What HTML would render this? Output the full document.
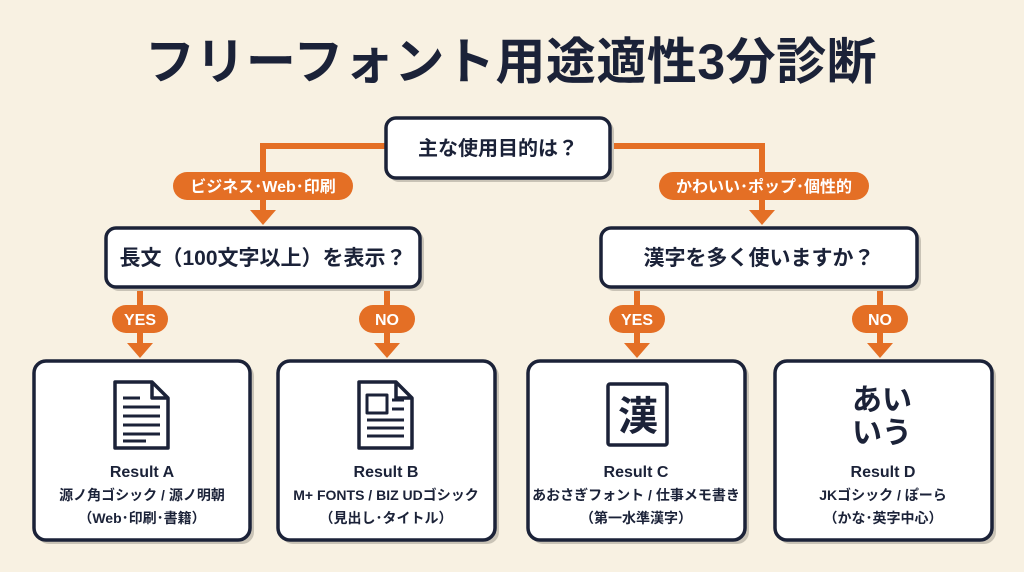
<!DOCTYPE html>
<html><head><meta charset="utf-8"><style>
html,body{margin:0;padding:0;background:#f8f1e2;}
svg{display:block}
text{font-family:"Liberation Sans","Noto Sans CJK JP",sans-serif;fill:#1b2238;font-weight:bold;text-anchor:middle}
</style></head><body>
<svg width="1024" height="572" viewBox="0 0 1024 572">
<rect width="1024" height="572" fill="#f8f1e2"/>
<text x="511" y="79" font-size="50" font-weight="900" letter-spacing="0.5">フリーフォント用途適性3分診断</text>
<g stroke="#e46f25" stroke-width="6" fill="none">
<path d="M388 146 H263 V212"/>
<path d="M608 146 H762 V212"/>
<path d="M140 288 V345"/><path d="M387 288 V345"/>
<path d="M637 288 V345"/><path d="M880 288 V345"/>
</g>
<g fill="#e46f25">
<path d="M250 210 H276 L263 225 Z"/><path d="M749 210 H775 L762 225 Z"/>
<path d="M127 343 H153 L140 358 Z"/><path d="M374 343 H400 L387 358 Z"/>
<path d="M624 343 H650 L637 358 Z"/><path d="M867 343 H893 L880 358 Z"/>
<rect x="173" y="172" width="180" height="28" rx="14"/>
<rect x="659" y="172" width="210" height="28" rx="14"/>
<rect x="112" y="305" width="56" height="28" rx="14"/>
<rect x="359" y="305" width="56" height="28" rx="14"/>
<rect x="609" y="305" width="56" height="28" rx="14"/>
<rect x="852" y="305" width="56" height="28" rx="14"/>
</g>
<g font-size="16">
<text x="263" y="192" style="fill:#fff">ビジネス･Web･印刷</text>
<text x="764" y="192" style="fill:#fff">かわいい･ポップ･個性的</text>
<text x="140" y="325" style="fill:#fff">YES</text>
<text x="387" y="325" style="fill:#fff">NO</text>
<text x="637" y="325" style="fill:#fff">YES</text>
<text x="880" y="325" style="fill:#fff">NO</text>
</g>
<g fill="#c9c3b6">
<rect x="389" y="121" width="225" height="61" rx="10"/>
<rect x="109" y="231" width="315" height="60" rx="10"/>
<rect x="604" y="231" width="317" height="60" rx="10"/>
<rect x="37" y="364" width="217" height="180" rx="12"/>
<rect x="281" y="364" width="218" height="180" rx="12"/>
<rect x="531" y="364" width="218" height="180" rx="12"/>
<rect x="778" y="364" width="218" height="180" rx="12"/>
</g>
<g fill="#fff" stroke="#1b2238" stroke-width="3.5">
<rect x="386" y="118" width="224" height="60" rx="10"/>
<rect x="106" y="228" width="314" height="59" rx="10"/>
<rect x="601" y="228" width="316" height="59" rx="10"/>
<rect x="34" y="361" width="216" height="179" rx="12"/>
<rect x="278" y="361" width="217" height="179" rx="12"/>
<rect x="528" y="361" width="217" height="179" rx="12"/>
<rect x="775" y="361" width="217" height="179" rx="12"/>
</g>
<text x="498" y="155" font-size="20">主な使用目的は？</text>
<text x="263" y="265" font-size="21">長文（100文字以上）を表示？</text>
<text x="759" y="265" font-size="21">漢字を多く使いますか？</text>
<g fill="none" stroke="#1b2238" stroke-width="3.5" stroke-linejoin="round">
<path d="M115 382 H152 L168 398 V448 H115 Z M152 382 V398 H168"/>
<path d="M359 382 H396 L412 398 V448 H359 Z M396 382 V398 H412"/>
<rect x="608" y="384" width="59" height="61" rx="2"/>
<rect x="367" y="395" width="20" height="18" stroke-width="3"/>
</g>
<g stroke="#1b2238" stroke-width="3">
<path d="M123 398 H140 M123 407 H160 M123 416 H160 M123 425 H160 M123 434 H160 M123 441 H146"/>
<path d="M392 400 H404 M392 409 H404 M367 420 H404 M367 428 H404 M367 436 H404"/>
</g>
<text x="638" y="430" font-size="40" font-weight="normal">漢</text>
<text x="882" y="410" font-size="30">あい</text>
<text x="882" y="443" font-size="30">いう</text>
<g font-size="16">
<text x="142" y="477">Result A</text>
<text x="142" y="500" font-size="14">源ノ角ゴシック / 源ノ明朝</text>
<text x="142" y="523" font-size="14">（Web･印刷･書籍）</text>
<text x="386" y="477">Result B</text>
<text x="386" y="500" font-size="14">M+ FONTS / BIZ UDゴシック</text>
<text x="386" y="523" font-size="14">（見出し･タイトル）</text>
<text x="636" y="477">Result C</text>
<text x="636" y="500" font-size="14">あおさぎフォント / 仕事メモ書き</text>
<text x="636" y="523" font-size="14">（第一水準漢字）</text>
<text x="883" y="477">Result D</text>
<text x="883" y="500" font-size="14">JKゴシック / ぽーら</text>
<text x="883" y="523" font-size="14">（かな･英字中心）</text>
</g>
</svg>
</body></html>
